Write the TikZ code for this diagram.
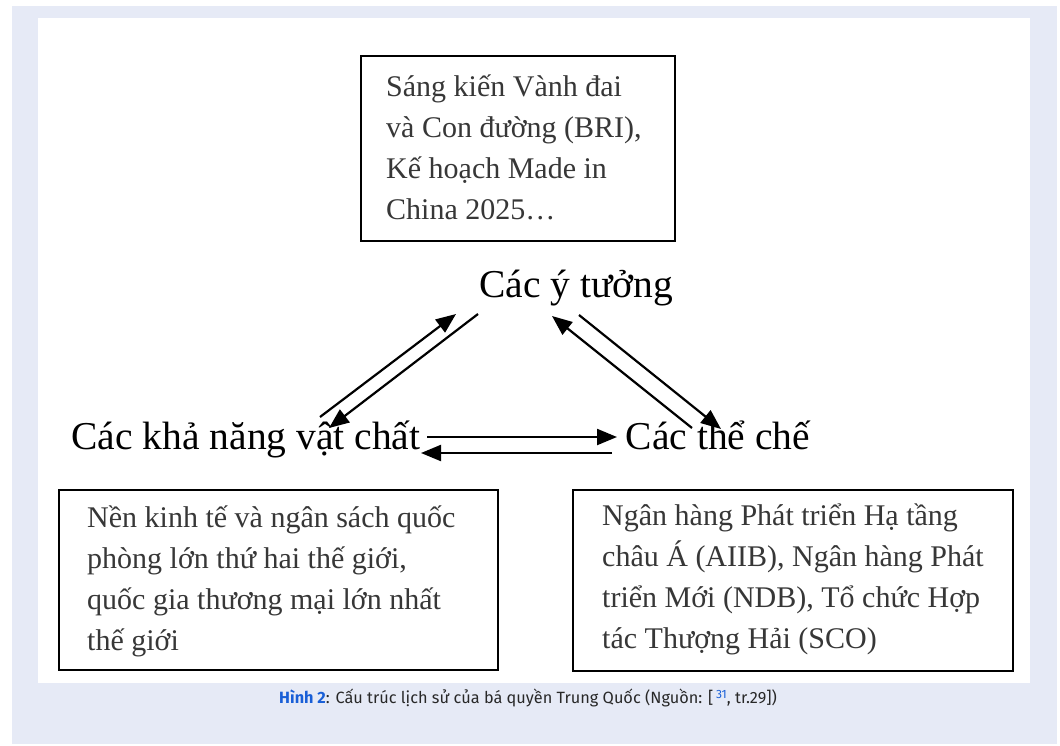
\documentclass[tikz,border=0pt]{standalone}
\usepackage{fontspec}
\setmainfont{Liberation Serif}
\newfontfamily\capfont{Fira Sans}
\usetikzlibrary{arrows.meta}
\definecolor{pagebg}{RGB}{230,234,246}
\definecolor{capblue}{RGB}{25,95,215}
\definecolor{captext}{RGB}{40,40,40}
\definecolor{boxtext}{RGB}{55,55,55}
\tikzset{
  frame/.style={draw=black,line width=2pt,inner sep=0pt,anchor=north west},
  boxtxt/.style={anchor=base west,align=left,inner sep=0pt,text=boxtext,font=\fontsize{30}{41}\selectfont},
  mainlbl/.style={anchor=base,inner sep=0pt,font=\fontsize{39.5}{44}\selectfont},
  flow/.style={line width=2.2pt,-{Triangle[length=20pt,width=16pt]}}
}
\begin{document}
\begin{tikzpicture}[x=1pt,y=-1pt]
\useasboundingbox (0,0) rectangle (1060,745);
\fill[pagebg] (12,6) rectangle (1057,744);
\fill[white] (38,18) rectangle (1030,683);
% boxes
\node[frame,minimum width=314pt,minimum height=185pt] (topbox) at (360,55) {};
\node[frame,minimum width=439pt,minimum height=180pt] (leftbox) at (58,489) {};
\node[frame,minimum width=440pt,minimum height=181pt] (rightbox) at (572,489) {};
% multi-line text: base anchor = last line's baseline
\node[boxtxt] (toptext) at (386,219) {Sáng kiến Vành đai\\và Con đường (BRI),\\Kế hoạch Made in\\China 2025…};
\begin{scope}
\clip (58,489) rectangle (1012,657);
\node[boxtxt] (lefttext) at (87,650) {Nền kinh tế và ngân sách quốc\\phòng lớn thứ hai thế giới,\\quốc gia thương mại lớn nhất\\thế giới};
\node[boxtxt] (righttext) at (602,648) {Ngân hàng Phát triển Hạ tầng\\châu Á (AIIB), Ngân hàng Phát\\triển Mới (NDB), Tổ chức Hợp\\tác Thượng Hải (SCO)};
\end{scope}
% main labels
\node[mainlbl] (ideas) at (576,297) {Các ý tưởng};
\node[mainlbl] (material) at (246,449) {Các khả năng vật chất};
\node[mainlbl] (inst) at (718,449) {Các thể chế};
% arrow end points
\coordinate (l1s) at (320,417); \coordinate (l1e) at (456,314);
\coordinate (l2s) at (478,314); \coordinate (l2e) at (329,428);
\coordinate (r1s) at (692,428); \coordinate (r1e) at (552,316);
\coordinate (r2s) at (579,315); \coordinate (r2e) at (721,429);
\coordinate (h1s) at (427,437); \coordinate (h1e) at (617,437);
\coordinate (h2s) at (612,453); \coordinate (h2e) at (421,453);
\draw[flow] (l1s) -- (l1e);
\draw[flow] (l2s) -- (l2e);
\draw[flow] (r1s) -- (r1e);
\draw[flow] (r2s) -- (r2e);
\draw[flow] (h1s) -- (h1e);
\draw[flow] (h2s) -- (h2e);
% caption
\node[anchor=base,inner sep=0pt,text=captext,font=\capfont\fontsize{16.3}{19}\selectfont] (cap) at (528,703)
  {\textcolor{capblue}{\bfseries Hình 2}: Cấu trúc lịch sử của bá quyền Trung Quốc (Nguồn: [\,\raisebox{5pt}{\textcolor{capblue}{\fontsize{12}{12}\selectfont 31}}, tr.29])};
\end{tikzpicture}
\end{document}
